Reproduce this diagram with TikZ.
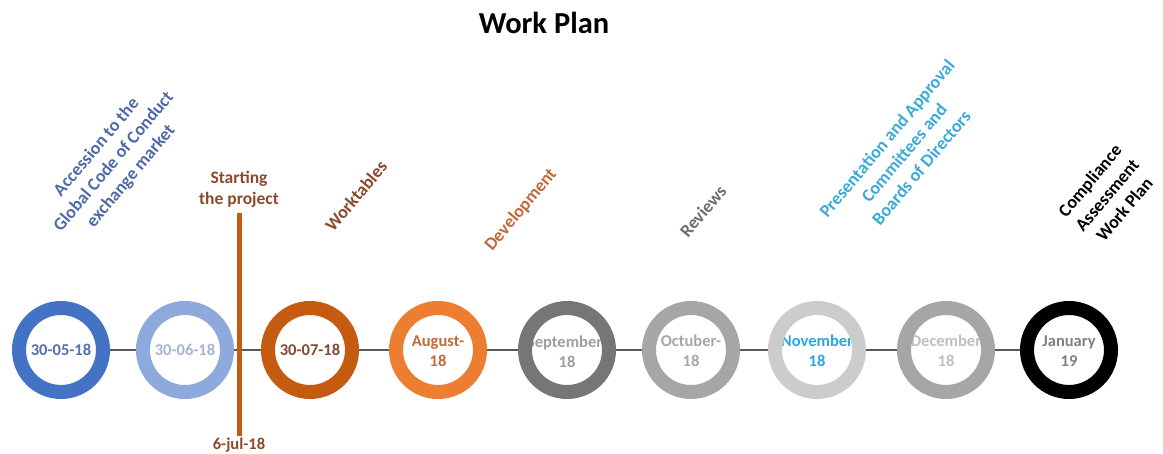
\documentclass[tikz,border=0pt]{standalone}
\usepackage{fontspec}
\setmainfont{Carlito}
\definecolor{cA}{HTML}{4472C4}
\definecolor{cAt}{HTML}{5470AE}
\definecolor{cB}{HTML}{8EA9DB}
\definecolor{cBt}{HTML}{A4B4D8}
\definecolor{cC}{HTML}{C55A11}
\definecolor{cCt}{HTML}{7F4A30}
\definecolor{cD}{HTML}{ED7D31}
\definecolor{cDt}{HTML}{C0693A}
\definecolor{cE}{HTML}{767676}
\definecolor{cEt}{HTML}{9E9E9E}
\definecolor{cF}{HTML}{A6A6A6}
\definecolor{cG}{HTML}{CCCCCC}
\definecolor{cGt}{HTML}{29A8E0}
\definecolor{cH}{HTML}{A6A6A6}
\definecolor{cHt}{HTML}{BFBFBF}
\definecolor{cIt}{HTML}{7F7F7F}
\definecolor{brownlab}{HTML}{8B4A2B}
\definecolor{bluelab}{HTML}{4F6AA6}
\definecolor{revlab}{HTML}{6E6E6E}
\definecolor{preslab}{HTML}{3AAAD8}
\definecolor{linegray}{HTML}{595959}
\begin{document}
\begin{tikzpicture}[x=1pt,y=-1pt,
  ring/.style={circle,minimum size=84pt,inner sep=0pt,line width=14pt,draw=#1},
  date/.style={font=\bfseries\fontsize{16.5}{20}\selectfont,align=center,text=#1,inner sep=0pt},
  lab/.style={font=\bfseries\fontsize{18}{22.5}\selectfont,align=center,rotate=50,text=#1,inner sep=0pt},
  conn/.style={draw=linegray,line width=1.8pt}]
\useasboundingbox (0,0) rectangle (1163,454);
\node[font=\bfseries\fontsize{30.5}{36}\selectfont] (title) at (544,23) {Work Plan};
% date texts (under the rings)
\node[date=cAt] (t1) at (61,350) {30-05-18};
\node[date=cBt] (t2) at (185,350) {30-06-18};
\node[date=cCt] (t3) at (310,350) {30-07-18};
\node[date=cDt] (t4) at (438,351) {August-\\18};
\node[date=cEt] (t5) at (567,352) {September-\\18};
\node[date=cF] (t6) at (691,351) {Octuber-\\18};
\node[date=cGt] (t7) at (817,351) {November\\18};
\node[date=cHt] (t8) at (946,351) {December\\18};
\node[date=cIt] (t9) at (1069,351) {January\\19};
% rings
\node[ring=cA] (c1) at (61,350) {};
\node[ring=cB] (c2) at (185,350) {};
\node[ring=cC] (c3) at (310,350) {};
\node[ring=cD] (c4) at (438,350) {};
\node[ring=cE] (c5) at (567,350) {};
\node[ring=cF] (c6) at (691,350) {};
\node[ring=cG] (c7) at (817,350) {};
\node[ring=cH] (c8) at (946,350) {};
\node[ring=black] (c9) at (1069,350) {};
% connectors
\draw[conn] (c1) -- (c2);
\draw[conn] (c2) -- (c3);
\draw[conn] (c3) -- (c4);
\draw[conn] (c4) -- (c5);
\draw[conn] (c5) -- (c6);
\draw[conn] (c6) -- (c7);
\draw[conn] (c7) -- (c8);
\draw[conn] (c8) -- (c9);
% start bar
\coordinate (bartop) at (239,213);
\coordinate (barbot) at (239,436);
\draw[draw=cC,line width=5pt] (bartop) -- (barbot);
\node[font=\bfseries\fontsize{17.5}{21.5}\selectfont,text=brownlab,align=center,anchor=south,inner sep=0pt] (start) at (239,208) {Starting\\the project};
\node[font=\bfseries\fontsize{16.5}{20}\selectfont,text=brownlab,inner sep=0pt] (jul) at (239,445) {6-jul-18};
% rotated labels
\node[lab=bluelab] (l1) at (114,162) {Accession to the\\Global Code of Conduct\\exchange market};
\node[lab=brownlab] (l3) at (356,196) {Worktables};
\node[lab=cDt] (l4) at (521,210) {Development};
\node[lab=revlab] (l5) at (703,211) {Reviews};
\node[lab=preslab] (l7) at (904,153) {Presentation and Approval\\Committees and\\Boards of Directors};
\node[lab=black] (l9) at (1107,195) {Compliance\\Assessment\\Work Plan};
\end{tikzpicture}
\end{document}
